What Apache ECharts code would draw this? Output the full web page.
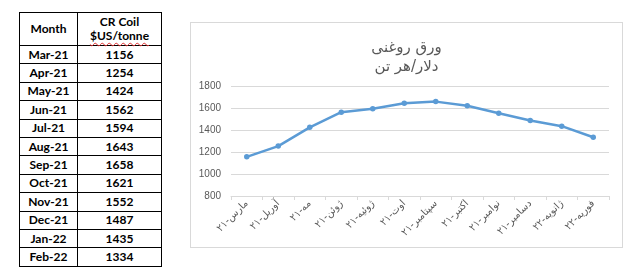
<!DOCTYPE html>
<html><head><meta charset="utf-8">
<script src="https://cdn.jsdelivr.net/npm/echarts@6/dist/echarts.min.js"></script>
<style>
html,body{margin:0;padding:0;background:#fff;width:637px;height:280px;overflow:hidden;}
#tbl{position:absolute;left:19px;top:12px;border-collapse:collapse;font-family:Lato,"Open Sans",sans-serif;font-weight:bold;font-size:12px;color:#000;}
#tbl td{border:1px solid #000;padding:0;text-align:center;height:17.4px;line-height:14px;}
#tbl td.c1{width:57px;}
#tbl td.c2{width:83px;}
#tbl tr.hd td{height:32px;}
.wavy{text-decoration:underline wavy #e03030;text-decoration-thickness:1px;text-underline-offset:2px;}
#box{position:absolute;left:190px;top:22px;width:431px;height:224px;border:1px solid #d9d9d9;}
#chart{width:431px;height:224px;}
</style></head>
<body>
<table id="tbl"></table>
<div id="box"><div id="chart"></div></div>
<script>
const tableMonths = ["Mar-21","Apr-21","May-21","Jun-21","Jul-21","Aug-21","Sep-21","Oct-21","Nov-21","Dec-21","Jan-22","Feb-22"];
const categories = ["مارس-۲۱","آوریل-۲۱","مه-۲۱","ژوئن-۲۱","ژوئیه-۲۱","اوت-۲۱","سپتامبر-۲۱","اکتبر-۲۱","نوامبر-۲۱","دسامبر-۲۱","ژانویه-۲۲","فوریه-۲۲"];
const values = [1156,1254,1424,1562,1594,1643,1658,1621,1552,1487,1435,1334];
const titleLines = ["ورق روغنی","دلار/هر تن"];
const yTicks = {min:800,max:1800,interval:200};

// table
const tbl = document.getElementById('tbl');
let html = '<tr class="hd"><td class="c1">Month</td><td class="c2">CR Coil<br><span class="wavy">$US/tonne</span></td></tr>';
for (let i=0;i<tableMonths.length;i++){
  html += '<tr><td class="c1">'+tableMonths[i]+'</td><td class="c2">'+values[i]+'</td></tr>';
}
tbl.innerHTML = html;

const chart = echarts.init(document.getElementById('chart'), null, {renderer:'canvas'});
chart.setOption({
  animation:false,
  title:{
    text: titleLines.join('\n'),
    left:'center', top:11,
    textStyle:{fontFamily:'DejaVu Sans', fontWeight:'normal', fontSize:15, color:'#595959', lineHeight:19}
  },
  grid:{left:40, right:13, top:63, bottom:51},
  xAxis:{
    type:'category', data:categories, boundaryGap:true,
    axisLine:{lineStyle:{color:'#d9d9d9'}},
    axisTick:{show:true, length:4, lineStyle:{color:'#d9d9d9'}},
    axisLabel:{rotate:45, interval:0, fontFamily:'DejaVu Sans', fontSize:10, color:'#595959', margin:6}
  },
  yAxis:{
    type:'value', min:yTicks.min, max:yTicks.max, interval:yTicks.interval,
    axisLine:{show:false}, axisTick:{show:false},
    splitLine:{lineStyle:{color:'#d9d9d9'}},
    axisLabel:{fontFamily:'Liberation Sans', fontSize:10, color:'#595959', margin:10, formatter:function(v){return String(v);}}
  },
  series:[{
    type:'line', data:values,
    lineStyle:{color:'#5b9bd5', width:2.5},
    itemStyle:{color:'#5b9bd5'},
    symbol:'circle', symbolSize:5.5
  }]
});
</script>
</body></html>
